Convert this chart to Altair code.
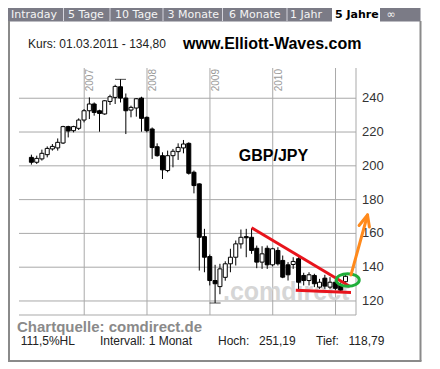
import altair as alt
import pandas as pd

# ---------------- data ----------------
first_month = "2006-02-01"
n_months = 61
open_ = [205.0, 202.1, 204.1, 206.6, 210.0, 210.6, 213.5, 223.2, 220.8, 222.2,
         227.1, 232.6, 236.6, 232.6, 230.7, 238.1, 240.5, 246.8, 240.1, 233.0,
         234.2, 240.1, 228.7, 221.8, 211.3, 206.0, 197.2, 206.0, 208.4, 210.6,
         213.3, 196.2, 189.3, 158.1, 146.3, 132.1, 128.5, 134.0, 142.0, 145.9,
         153.8, 158.1, 157.7, 151.2, 143.0, 151.2, 141.4, 149.9, 144.0, 141.4,
         141.6, 145.0, 135.1, 132.1, 135.1, 128.2, 133.5, 128.2, 131.1, 129.4, 131.4]
close = [202.1, 204.4, 207.4, 210.3, 211.5, 213.9, 223.2, 220.6, 223.2, 227.1,
         232.6, 236.6, 231.6, 231.0, 238.5, 240.9, 247.0, 240.1, 232.6, 234.6,
         239.7, 228.1, 220.8, 210.8, 206.0, 197.6, 206.0, 208.6, 210.9, 212.9,
         195.6, 188.3, 157.7, 145.9, 132.1, 130.2, 139.0, 142.0, 145.9, 153.8,
         157.7, 157.4, 149.9, 143.0, 147.9, 141.4, 150.9, 142.0, 134.1, 135.5,
         143.4, 131.1, 132.1, 135.5, 130.2, 131.1, 128.8, 131.1, 127.5, 126.4, 134.6]
high = [206.6, 206.0, 209.6, 211.5, 212.9, 216.2, 223.7, 223.7, 223.7, 228.1,
        233.6, 240.5, 237.5, 233.2, 238.9, 242.1, 248.0, 251.19, 242.8, 235.6,
        240.1, 240.9, 229.2, 222.7, 213.3, 208.0, 209.0, 210.0, 213.3, 215.3,
        213.9, 197.2, 189.6, 162.7, 147.5, 141.4, 142.0, 143.5, 150.9, 155.8,
        162.3, 162.7, 163.0, 152.8, 152.4, 152.8, 151.5, 151.8, 146.9, 143.0,
        145.9, 145.9, 136.7, 137.0, 136.1, 133.1, 135.5, 134.1, 132.5, 131.0, 135.3]
low = [200.7, 201.1, 203.1, 205.0, 209.0, 209.0, 212.9, 216.8, 219.8, 221.2,
       225.7, 227.7, 229.7, 220.2, 230.2, 236.0, 236.6, 237.5, 218.8, 228.7,
       229.1, 220.2, 219.8, 204.1, 205.4, 192.2, 196.2, 199.1, 203.5, 207.4,
       194.8, 183.7, 138.0, 137.0, 129.2, 118.79, 124.0, 132.0, 137.0, 141.0,
       151.0, 145.9, 147.9, 139.4, 139.0, 139.0, 140.5, 141.0, 133.5, 132.1,
       139.0, 126.2, 129.2, 129.2, 128.2, 127.2, 127.2, 127.2, 126.5, 125.8, 130.5]

year_labels = ["2007", "2008", "2009", "2010"]
grid_years = ["2007-01-01", "2008-01-01", "2009-01-01", "2010-01-01", "2011-01-01"]
y_ticks = [120, 140, 160, 180, 200, 220, 240]

hi_date, hi_val = "2007-07-31", 251.19
lo_date, lo_val = "2009-01-31", 118.79

# annotation lines (data coordinates)
red_x = ["2009-08-31", "2010-05-15"]
red_x2 = ["2011-03-26", "2011-04-01"]
red_y = [163.3, 126.3]
red_y2 = [128.6, 125.0]
ell_date, ell_val = "2011-03-13", 132.4
arr_x = ["2011-04-01", "2011-07-06", "2011-07-06"]
arr_x2 = ["2011-07-06", "2011-05-18", "2011-07-17"]
arr_y = [135.4, 170.9, 170.9]
arr_y2 = [170.9, 164.7, 163.8]

tab_labels = ["Intraday", "5 Tage", "10 Tage", "3 Monate", "6 Monate", "1 Jahr"]
tab_x = [-8, 49, 96, 148.5, 210, 271]
tab_sep = [44.5, 91, 144, 203.5, 268]

# ---------------- frames ----------------
dates = pd.date_range(first_month, periods=n_months, freq="MS") + pd.offsets.MonthEnd(0)
df = pd.DataFrame({"date": dates, "open": open_, "close": close, "high": high, "low": low})
df["dir"] = ["up" if c >= o else "down" for o, c in zip(open_, close)]

X_SCALE = alt.Scale(domain=[alt.DateTime(year=2006, month=1, date=16),
                            alt.DateTime(year=2011, month=4, date=1)])
Y_SCALE = alt.Scale(domain=[111.7, 257.9], nice=False, zero=False)
GRID = "#a9a9a9"
FONT = "Liberation Sans"

one = pd.DataFrame({"k": [0]})


def X(field):
    return alt.X(field, scale=X_SCALE, axis=None)


def Y(field):
    return alt.Y(field, scale=Y_SCALE, axis=None)


def seg(x, x2, y, y2, color, w):
    return alt.Chart(one).mark_rule(color=color, strokeWidth=w).encode(
        x=alt.value(x), x2=alt.value(x2), y=alt.value(y), y2=alt.value(y2))


def box(x, x2, y, y2, color):
    return alt.Chart(one).mark_rect(color=color).encode(
        x=alt.value(x), x2=alt.value(x2), y=alt.value(y), y2=alt.value(y2))


def txt(s, x, y, size=12, weight="normal", color="#222222", align="left",
        font=FONT, baseline="middle"):
    return alt.Chart(one).mark_text(text=s, fontSize=size, fontWeight=weight, color=color,
                                    align=align, baseline=baseline, font=font).encode(
        x=alt.value(x), y=alt.value(y))


# grid and axis labels
yt_df = pd.DataFrame({"v": y_ticks, "lab": [str(v) for v in y_ticks]})
hgrid = alt.Chart(yt_df).mark_rule(color=GRID, strokeWidth=1).encode(
    y=Y("v:Q"), x=alt.value(0), x2=alt.value(337))
ylabels = alt.Chart(yt_df).mark_text(align="left", baseline="middle", fontSize=13, font=FONT,
                                     color="#333333").encode(
    y=Y("v:Q"), x=alt.value(343), text="lab:N")
gy_df = pd.DataFrame({"date": pd.to_datetime(grid_years)})
vgrid = alt.Chart(gy_df).mark_rule(color=GRID, strokeWidth=1).encode(
    x=X("date:T"), y=alt.value(0), y2=alt.value(247))
yl_df = pd.DataFrame({"date": pd.to_datetime(grid_years[:4]), "lab": year_labels})
year_txt = alt.Chart(yl_df).mark_text(angle=270, align="right", baseline="top", fontSize=10,
                                      font=FONT, color="#999999", dx=-1, dy=1).encode(
    x=X("date:T"), y=alt.value(0), text="lab:N")

# candles
base = alt.Chart(df)
wick = base.mark_rule(color="black", strokeWidth=1).encode(
    x=X("date:T"), y=Y("low:Q"), y2="high:Q")
body = base.mark_bar(size=4, stroke="black", strokeWidth=1).encode(
    x=X("date:T"), y=Y("open:Q"), y2="close:Q",
    fill=alt.Fill("dir:N", scale=alt.Scale(domain=["up", "down"], range=["white", "black"]), legend=None))

caps_df = pd.DataFrame({"date": pd.to_datetime([hi_date, lo_date]), "v": [hi_val, lo_val]})
caps = alt.Chart(caps_df).mark_tick(orient="horizontal", size=11, thickness=1, color="black").encode(
    x=X("date:T"), y=Y("v:Q"))

# annotations
red_df = pd.DataFrame({"x": pd.to_datetime(red_x), "x2": pd.to_datetime(red_x2), "y": red_y, "y2": red_y2})
red = alt.Chart(red_df).mark_rule(color="#e8141c", strokeWidth=3).encode(
    x=X("x:T"), x2="x2:T", y=Y("y:Q"), y2="y2:Q")

ell_df = pd.DataFrame({"date": pd.to_datetime([ell_date]), "v": [ell_val]})
ellipse = alt.Chart(ell_df).mark_point(
    shape="M-1,0A1,0.55,0,1,1,1,0A1,0.55,0,1,1,-1,0Z", size=529, filled=False,
    color="#1fae3a", strokeWidth=3, opacity=1).encode(
    x=X("date:T"), y=Y("v:Q"))

arr_df = pd.DataFrame({"x": pd.to_datetime(arr_x), "x2": pd.to_datetime(arr_x2), "y": arr_y, "y2": arr_y2})
arrow = alt.Chart(arr_df).mark_rule(color="#ff8a1c", strokeWidth=3, strokeCap="round").encode(
    x=X("x:T"), x2="x2:T", y=Y("y:Q"), y2="y2:Q")

watermark = txt(".comdirect", 204, 232, size=25, weight="bold", color="#d6d6d6", baseline="alphabetic")

layers = [
    box(-11, 401.5, -60, -46.5, "#7b7b86"),
    box(313, 361, -60, -45.5, "white"),
]
for sx in tab_sep:
    layers.append(seg(sx, sx, -60, -47, "#d4d4dc", 1))
for lab, tx in zip(tab_labels, tab_x):
    layers.append(txt(lab, tx, -53.5, size=11, color="#f4f4f4", font="DejaVu Sans"))
layers += [
    txt("5 Jahre", 316, -53.5, size=11, weight="bold", color="black", font="DejaVu Sans"),
    txt("\u221e", 367.5, -53.5, size=11, color="#f4f4f4", font="DejaVu Sans"),
    seg(-10, -10, -47, 293, "#8a8a8a", 2),
    seg(401.5, 401.5, -47, 293, "#8a8a8a", 2),
    seg(-11, 402.5, 293, 293, "#8a8a8a", 2),
    txt("Kurs: 01.03.2011 - 134,80", 9, -23.7, size=12, color="#222222"),
    txt("www.Elliott-Waves.com", 164, -24, size=16, weight="bold", color="black"),
    hgrid, vgrid,
    seg(0, 337, 247, 247, GRID, 1),
    seg(337, 337, 0, 247, GRID, 1),
    watermark,
    year_txt, ylabels,
    wick, body, caps,
    red, ellipse, arrow,
    txt("GBP/JPY", 254.5, 88, size=16, weight="bold", color="black", align="center"),
    txt("Chartquelle: comdirect.de", -2, 258.7, size=15, weight="bold", color="#8a8a8a"),
    txt("111,5%HL", 1.7, 272.5, size=12),
    txt("Intervall: 1 Monat", 81, 272.5, size=12),
    txt("Hoch:", 199, 272.5, size=12),
    txt("251,19", 240, 272.5, size=12),
    txt("Tief:", 297, 272.5, size=12),
    txt("118,79", 329.5, 272.5, size=12),
]

chart = alt.layer(*layers).properties(
    width=337, height=247,
    padding={"left": 11, "top": 60, "right": 76, "bottom": 48},
    autosize=alt.AutoSizeParams(type="none"),
    background="white",
).configure_view(stroke=None)

chart.save("out.html", embed_options={"renderer": "svg", "actions": False})
